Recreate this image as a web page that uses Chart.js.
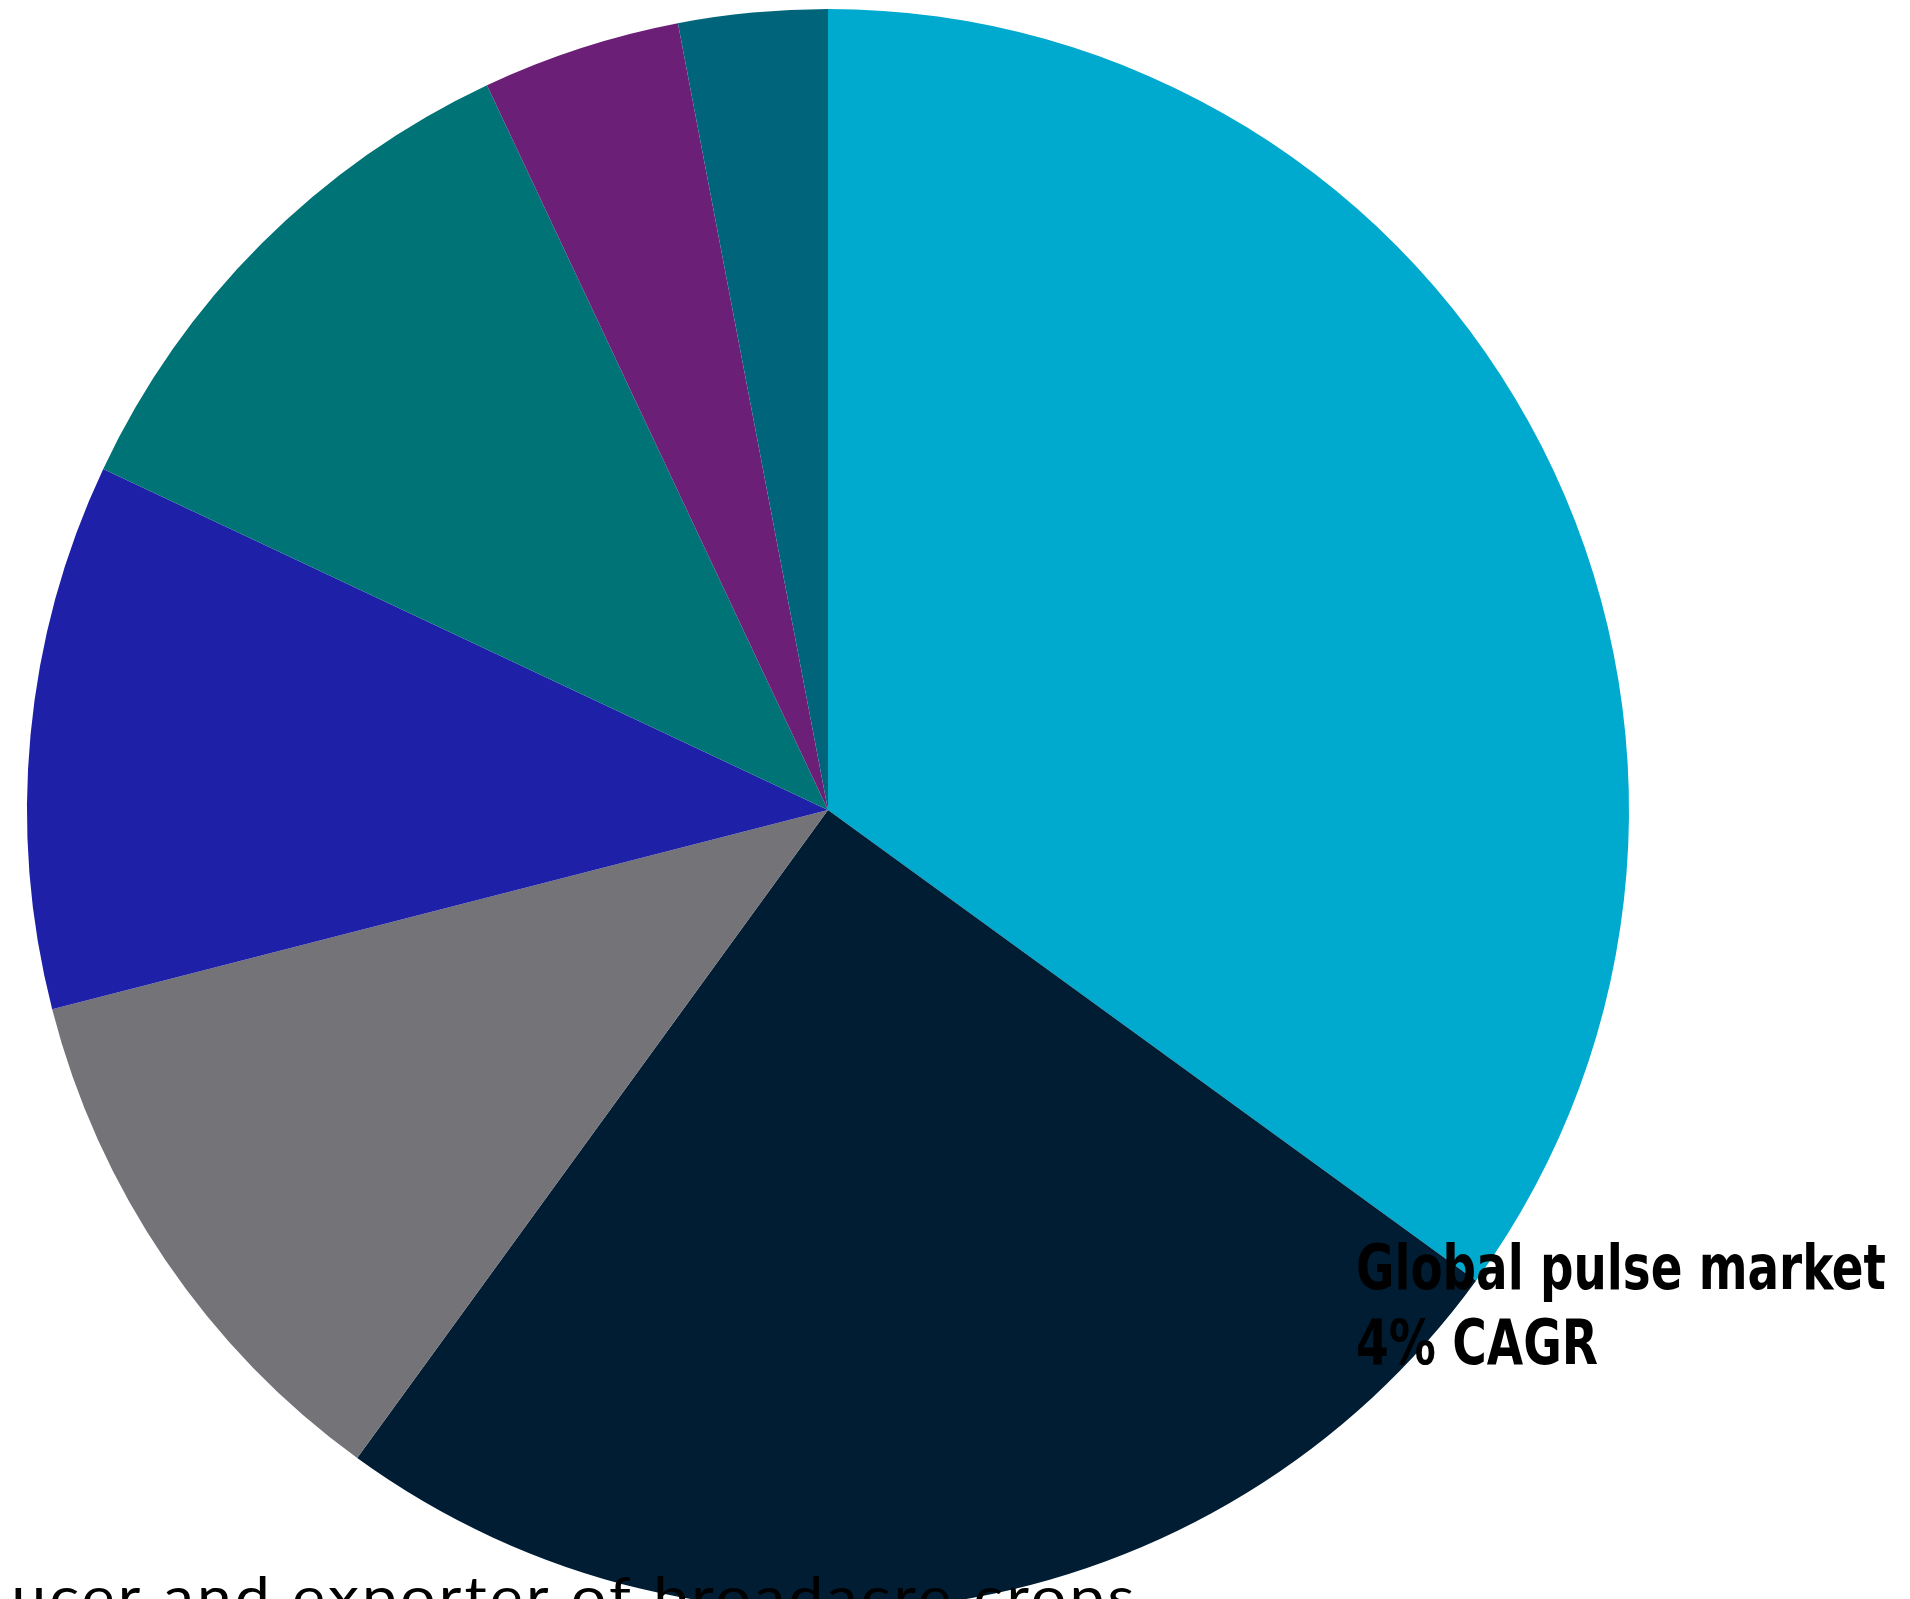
<!DOCTYPE html>
<html>
<head>
<meta charset="utf-8">
<script src="https://cdn.jsdelivr.net/npm/chart.js@4.4.1/dist/chart.umd.min.js"></script>
<style>
  html, body { margin: 0; padding: 0; background: #fff; overflow: hidden; }
  #wrap { width: 1910px; height: 1599px; overflow: hidden; }
  canvas { display: block; }
</style>
</head>
<body>
<div id="wrap">
  <canvas id="pie" width="1910" height="1620"></canvas>
</div>
<script>
// slice shares (%), read clockwise from 12 o'clock
const segments = ['Segment 1', 'Segment 2', 'Segment 3', 'Segment 4', 'Segment 5', 'Segment 6', 'Segment 7'];
const shares = [35, 25, 11, 11, 11, 4, 3];
const sliceColors = ['#00A9CE', '#001D33', '#747378', '#1E21A8', '#007377', '#6C1F77', '#00647A'];

const calloutLines = ['Global pulse market', '4% CAGR'];
const footnote = 'producer and exporter of broadacre crops';

// draws a line of text squeezed to a given width
function fitText(ctx, text, x, y, width) {
    const w = ctx.measureText(text).width;
    ctx.save();
    ctx.translate(x, y);
    ctx.scale(width / w, 1);
    ctx.fillText(text, 0, 0);
    ctx.restore();
}

const textPlugin = {
    id: 'texts',
    afterDraw(chart) {
        const ctx = chart.ctx;
        ctx.save();
        ctx.fillStyle = '#000';
        ctx.textBaseline = 'alphabetic';
        ctx.textAlign = 'left';

        ctx.font = 'bold 63px "DejaVu Sans Condensed", "DejaVu Sans", sans-serif';
        fitText(ctx, calloutLines[0], 1356, 1289, 530);
        fitText(ctx, calloutLines[1], 1356, 1364, 242);

        // bottom line runs off the left edge of the picture (cropped there)
        ctx.beginPath();
        ctx.rect(9, 1500, 1900, 200);
        ctx.clip();
        ctx.font = '400 54px Lato, "Open Sans", sans-serif';
        const sx = 1.15;
        const cut = 'prod';
        const rest = footnote.slice(cut.length);
        const w0 = ctx.measureText(rest).width;
        const gap = (1123 / sx - w0) / (rest.length - 1);
        ctx.letterSpacing = gap + 'px';
        const startX = 11.5 / sx - ctx.measureText(cut).width;
        ctx.translate(0, 1616);
        ctx.scale(sx, 1);
        ctx.fillText(footnote, startX, 0);
        ctx.restore();
    }
};

new Chart(document.getElementById('pie'), {
    type: 'pie',
    data: {
        labels: segments,
        datasets: [{
            data: shares,
            backgroundColor: sliceColors,
            borderWidth: 0
        }]
    },
    options: {
        responsive: false,
        animation: false,
        devicePixelRatio: 1,
        layout: { padding: { top: 9, bottom: 9, left: 27, right: 281 } },
        plugins: {
            legend: { display: false },
            tooltip: { enabled: false }
        }
    },
    plugins: [textPlugin]
});
</script>
</body>
</html>
